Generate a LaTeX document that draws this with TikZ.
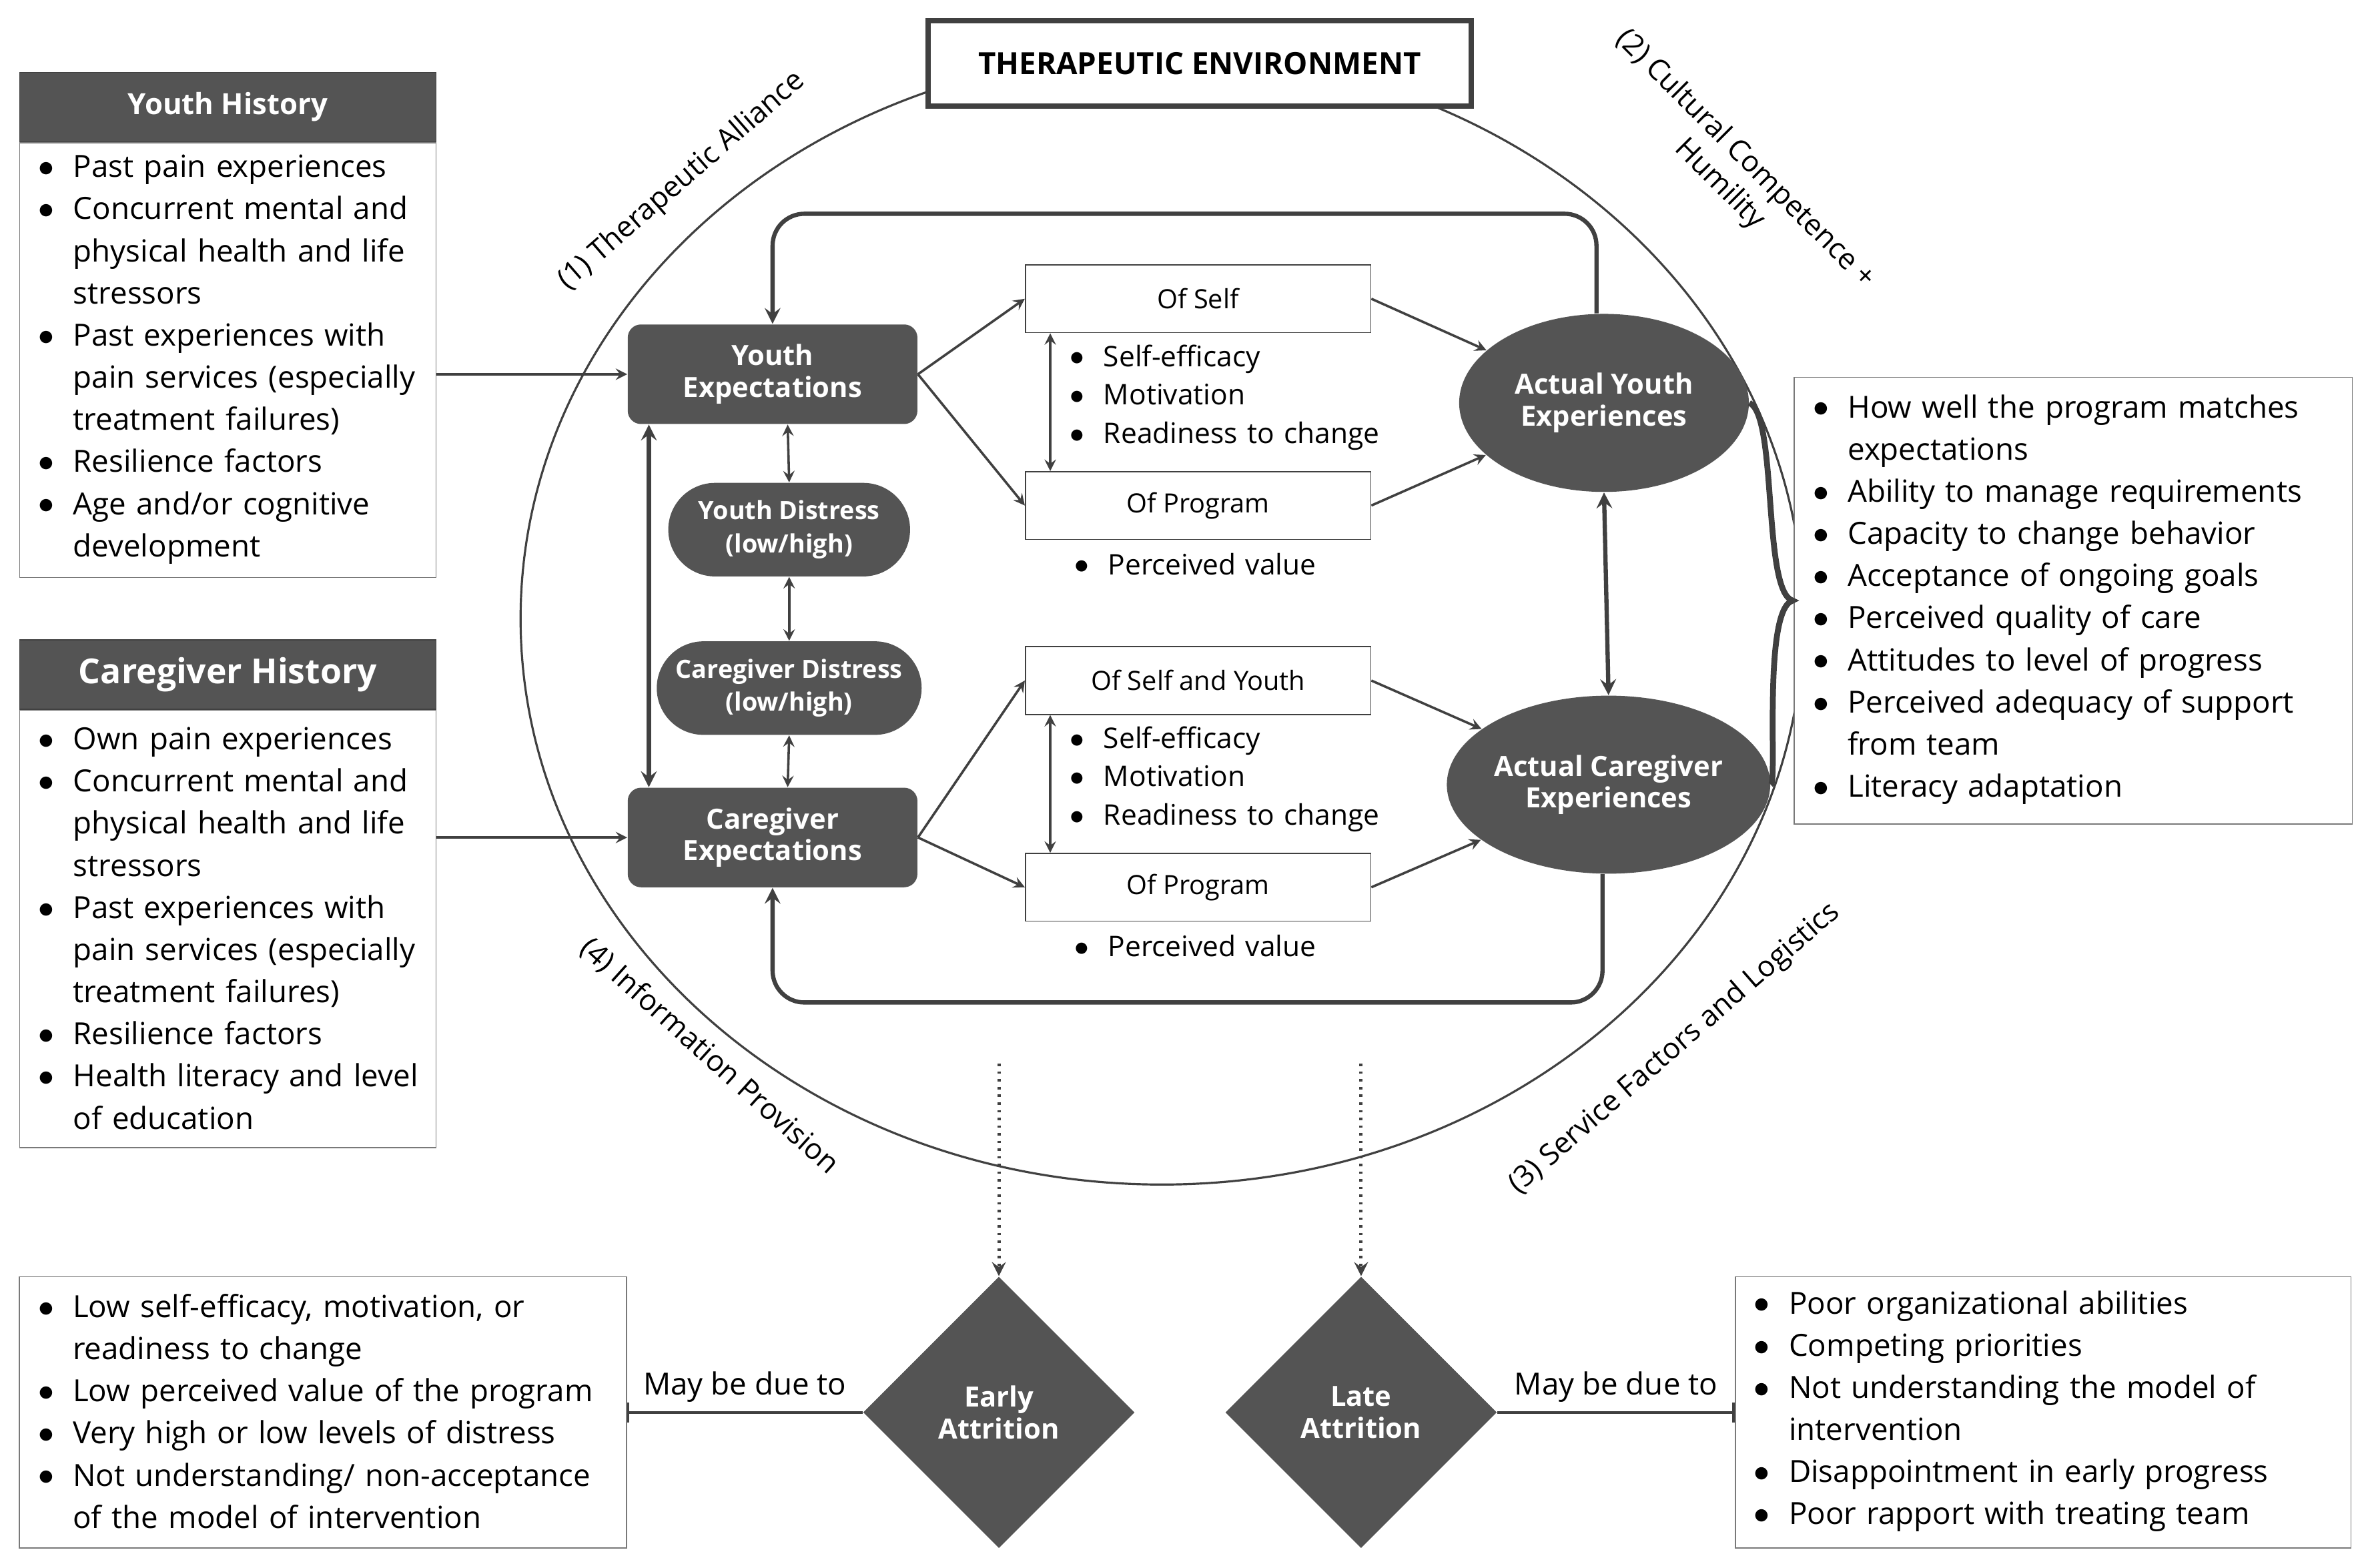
\documentclass[tikz,border=0pt]{standalone}
\usepackage{fontspec}
\setmainfont{Open Sans}
\usepackage{enumitem}
\usetikzlibrary{positioning,arrows,shapes.geometric,shapes.misc}

\definecolor{dk}{HTML}{545454}
\definecolor{ln}{HTML}{404040}
\newcommand{\blist}[1]{\vspace*{-8pt}\begin{itemize}[leftmargin=0.56cm,labelsep=0.25cm,nosep,label={\raisebox{0.05ex}{$\bullet$}}]#1\end{itemize}}

\tikzset{
  txt/.style={font=\fontsize{11.5}{15.9}\selectfont},
  hdr/.style={fill=dk,draw=ln,text=white,font=\fontsize{11}{13}\selectfont\bfseries,minimum height=0.92cm,inner sep=0pt},
  lbox/.style={draw=ln!70,fill=white,txt,align=left,inner sep=0.15cm},
  expbox/.style={rounded corners=5pt,fill=dk,text=white,align=center,minimum width=3.84cm,minimum height=1.32cm,font=\fontsize{10.5}{12}\selectfont\bfseries},
  dist/.style={rounded rectangle,fill=dk,text=white,align=center,minimum width=3.44cm,minimum height=1.24cm,font=\fontsize{9.5}{12.5}\selectfont\bfseries},
  ofbox/.style={draw=ln,fill=white,minimum width=4.58cm,minimum height=0.9cm,font=\fontsize{10}{11}\selectfont},
  sub/.style={anchor=north west,text width=5cm,inner sep=0pt,font=\fontsize{10.7}{14.5}\selectfont},
  act/.style={ellipse,fill=dk,text=white,align=center,minimum width=3.84cm,minimum height=2.36cm,inner sep=0pt,font=\fontsize{10.5}{12}\selectfont\bfseries},
  att/.style={diamond,fill=dk,text=white,align=center,minimum width=3.6cm,minimum height=3.6cm,inner sep=0pt,font=\fontsize{10.5}{12}\selectfont\bfseries},
  arr/.style={->,>=stealth,draw=ln,line width=0.9pt},
  dbl/.style={<->,>=stealth,draw=ln,line width=0.9pt},
  arc/.style={font=\fontsize{11}{13.5}\selectfont}
}

\begin{document}
\begin{tikzpicture}[x=0.02cm,y=-0.02cm]
  \useasboundingbox (0,0) rectangle (1568,1039);

  % environment
  \draw[ln,line width=0.8pt] (770,410) ellipse [x radius=425, y radius=375];
  \node[draw=ln,line width=2pt,fill=white,minimum width=7.2cm,minimum height=1.14cm,font=\fontsize{11.5}{13}\selectfont\bfseries] (te) at (795,42) {THERAPEUTIC ENVIRONMENT};

  \node[arc,rotate=41] (a1) at (452,120) {(1) Therapeutic Alliance};
  \node[arc,rotate=-45,align=center] (a2) at (1148,114) {(2) Cultural Competence +\\Humility};
  \node[arc,rotate=41] (a3) at (1110,695) {(3) Service Factors and Logistics};
  \node[arc,rotate=-42] (a4) at (470,700) {(4) Information Provision};

  % histories
  \node[hdr,minimum width=5.52cm] (yh) at (151,71) {Youth History};
  \node[lbox,anchor=north west,text width=5.22cm,minimum height=5.76cm] (yhb) at (yh.south west) {\blist{
    \item Past pain experiences
    \item Concurrent mental and\newline physical health and life\newline stressors
    \item Past experiences with\newline pain services (especially\newline treatment failures)
    \item Resilience factors
    \item Age and/or cognitive\newline development}};
  \node[hdr,minimum width=5.52cm,font=\fontsize{13}{15}\selectfont\bfseries] (ch) at (151,447) {Caregiver History};
  \node[lbox,anchor=north west,text width=5.22cm,minimum height=5.8cm] (chb) at (ch.south west) {\blist{
    \item Own pain experiences
    \item Concurrent mental and\newline physical health and life\newline stressors
    \item Past experiences with\newline pain services (especially\newline treatment failures)
    \item Resilience factors
    \item Health literacy and level\newline of education}};

  % centre
  \node[expbox] (ye) at (512,248) {Youth\\Expectations};
  \node[dist] (yd) at (523,351) {Youth Distress\\(low/high)};
  \node[dist] (cd) at (523,456) {Caregiver Distress\\(low/high)};
  \node[expbox] (ce) at (512,555) {Caregiver\\Expectations};

  \node[ofbox] (ys) at (794,198) {Of Self};
  \node[ofbox] (yp) at (794,335) {Of Program};
  \node[ofbox] (cs) at (794,451) {Of Self and Youth};
  \node[ofbox] (cp) at (794,588) {Of Program};
  \node[sub] (ysl) at (703,231) {\blist{\item Self-efficacy \item Motivation \item Readiness to change}};
  \node[sub] (csl) at (703,484) {\blist{\item Self-efficacy \item Motivation \item Readiness to change}};
  \node[sub] (ypl) at (706,369) {\blist{\item Perceived value}};
  \node[sub] (cpl) at (706,622) {\blist{\item Perceived value}};

  \node[act] (aye) at (1063,267) {Actual Youth\\Experiences};
  \node[act] (ace) at (1066,520) {Actual Caregiver\\Experiences};

  \node[lbox,text width=7.1cm,minimum height=5.92cm] (rb) at (1374,398) {\blist{
    \item How well the program matches\newline expectations
    \item Ability to manage requirements
    \item Capacity to change behavior
    \item Acceptance of ongoing goals
    \item Perceived quality of care
    \item Attitudes to level of progress
    \item Perceived adequacy of support\newline from team
    \item Literacy adaptation}};

  % connectors
  \draw[arr] (yhb.east |- ye) -- (ye.west);
  \draw[arr] (chb.east |- ce) -- (ce.west);
  \draw[arr] (ye.east) -- (ys.west);
  \draw[arr] (ye.east) -- (yp.west);
  \draw[arr] (ce.east) -- (cs.west);
  \draw[arr] (ce.east) -- (cp.west);
  \draw[arr] (ys.east) -- (aye);
  \draw[arr] (yp.east) -- (aye);
  \draw[arr] (cs.east) -- (ace);
  \draw[arr] (cp.east) -- (ace);
  \draw[dbl] ([xshift=-1.96cm]ys.south) -- ([xshift=-1.96cm]yp.north);
  \draw[dbl] ([xshift=-1.96cm]cs.south) -- ([xshift=-1.96cm]cp.north);
  \draw[dbl] ([xshift=0.2cm]ye.south) -- (yd.north);
  \draw[dbl] (yd.south) -- (cd.north);
  \draw[dbl] (cd.south) -- ([xshift=0.2cm]ce.north);
  \draw[dbl,line width=1.6pt] ([xshift=-1.64cm]ye.south) -- ([xshift=-1.64cm]ce.north);
  \draw[dbl,line width=1.6pt] (aye.south) -- (ace.north);
  \draw[arr,line width=1.6pt,rounded corners=12pt] ([xshift=-0.1cm]aye.north) -- ++(0,-66) -| (ye.north);
  \draw[arr,line width=1.6pt,rounded corners=12pt] ([xshift=-0.08cm]ace.south) -- ++(0,85) -| (ce.south);
  \draw[ln,line width=2.2pt] (aye.east) .. controls (1178,275) and (1168,392) .. (1188,398) .. controls (1168,404) and (1178,520) .. (ace.east);

  % attrition
  \node[att] (ea) at (662,936) {Early\\Attrition};
  \node[att] (la) at (902,936) {Late\\Attrition};
  \coordinate (ed) at (662,705);
  \coordinate (ld) at (902,705);
  \draw[arr,dotted,line width=1.3pt] (ed) -- (ea.north);
  \draw[arr,dotted,line width=1.3pt] (ld) -- (la.north);

  \node[lbox,text width=7.75cm,minimum height=3.6cm] (lb) at (214,936) {\blist{
    \item Low self-efficacy, motivation, or\newline readiness to change
    \item Low perceived value of the program
    \item Very high or low levels of distress
    \item Not understanding/ non-acceptance\newline of the model of intervention}};
  \node[lbox,text width=7.86cm,minimum height=3.6cm] (rbb) at (1354,936) {\blist{
    \item Poor organizational abilities
    \item Competing priorities
    \item Not understanding the model of\newline intervention
    \item Disappointment in early progress
    \item Poor rapport with treating team}};
  \draw[-|,draw=ln,line width=0.9pt] (ea.west) -- (lb.east) node[midway,above,txt] {May be due to};
  \draw[-|,draw=ln,line width=0.9pt] (la.east) -- (rbb.west) node[midway,above,txt] {May be due to};
\end{tikzpicture}
\end{document}
